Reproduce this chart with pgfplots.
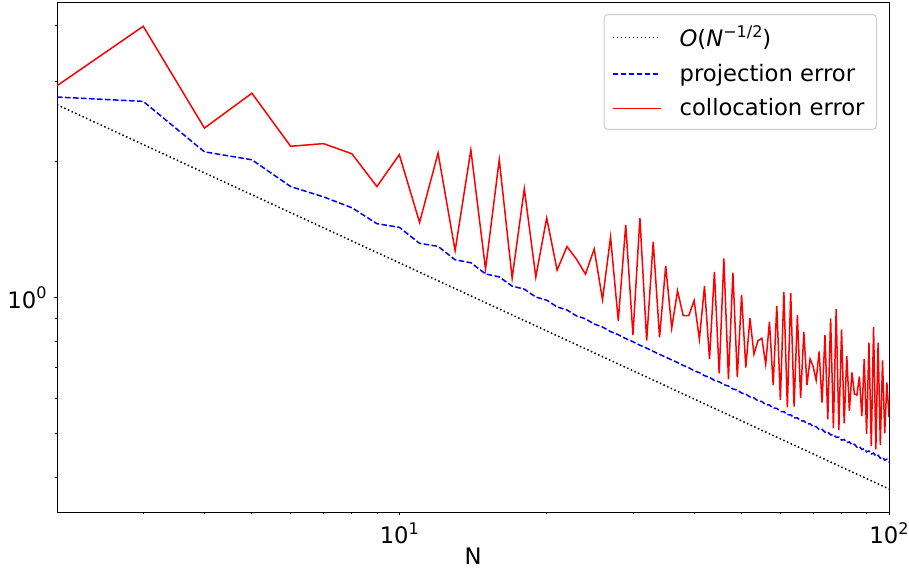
\documentclass[border=0pt]{standalone}
\usepackage{fontspec}
\setmainfont{DejaVu Sans}
\usepackage{pgfplots}
\pgfplotsset{compat=1.18}

% small raised exponent, as in 10^1
\newcommand{\expo}[1]{\raisebox{0.42em}{\fontsize{8}{9}\selectfont #1}}

\begin{document}
\begin{tikzpicture}[font=\fontsize{11.35}{13.6}\selectfont]
\useasboundingbox (-28.5pt,-28.5pt) rectangle (426pt,256pt);
\begin{axis}[
  width=416pt, height=254.5pt, scale only axis,
  xmode=log, ymode=log,
  xmin=2, xmax=100, ymin=0.3357, ymax=4.48,
  xtick={10,100}, xticklabels={10\expo{1},10\expo{2}},
  ytick={1}, yticklabels={10\expo{0}},
  minor xtick={3,4,5,6,7,8,9,20,30,40,50,60,70,80,90},
  minor ytick={0.4,0.5,0.6,0.7,0.8,0.9,2,3,4},
  tick align=outside, tick pos=left,
  major tick length=1.75pt, minor tick length=1pt,
  every tick/.style={black, line width=0.4pt},
  axis line style={line width=0.5pt},
  xlabel={N},
  xlabel style={yshift=5pt},
  legend cell align=left,
  legend style={at={(1,1)}, anchor=north east, xshift=-6pt, yshift=-5.5pt,
    draw=black!20, line width=0.5pt, rounded corners=2pt,
    fill=white, fill opacity=0.8, text opacity=1, draw opacity=1,
    inner xsep=4pt, inner ysep=3.5pt, row sep=3pt,
    font=\fontsize{11.35}{13.6}\selectfont},
  legend image code/.code={\draw[#1] (0pt,0pt) -- (24pt,0pt); \path (31pt,0pt);},
]
% reference rate
\addplot[black, line width=0.75pt, dash pattern=on 0.75pt off 1.25pt]
  coordinates {(2,2.669) (100,0.3775)};
\addlegendentry{\textit{O}(\textit{N}\expo{−1/2})}

% projection error
\addplot[blue, line width=0.75pt, dash pattern=on 2.8pt off 1.2pt] coordinates {
(2,2.776) (3,2.715) (4,2.10) (5,2.017) (6,1.76) (7,1.67) (8,1.58) (9,1.457) (10,1.43)
(11,1.318) (12,1.298) (13,1.212) (14,1.194) (15,1.128) (16,1.111) (17,1.060) (18,1.044)
(19,1.0025) (20,0.987) (21,0.9536) (22,0.939) (23,0.9112) (24,0.8975) (25,0.874) (26,0.861)
(27,0.841) (28,0.828) (29,0.8115) (30,0.799) (31,0.7849) (32,0.773) (33,0.7607) (34,0.749)
(35,0.7387) (36,0.728) (37,0.7184) (38,0.708) (39,0.6998) (40,0.689) (41,0.6825) (42,0.672)
(43,0.6664) (44,0.656) (45,0.6514) (46,0.642) (47,0.6374) (48,0.628) (49,0.6243) (50,0.615)
(51,0.6119) (52,0.603) (53,0.6003) (54,0.591) (55,0.5892) (56,0.580) (57,0.5788) (58,0.570)
(59,0.5689) (60,0.560) (61,0.5595) (62,0.551) (63,0.5506) (64,0.542) (65,0.542) (66,0.534)
(67,0.5339) (68,0.526) (69,0.5261) (70,0.518) (71,0.5186) (72,0.511) (73,0.5115) (74,0.504)
(75,0.5046) (76,0.497) (77,0.498) (78,0.491) (79,0.4917) (80,0.484) (81,0.4856) (82,0.478)
(83,0.4797) (84,0.4725) (85,0.474) (86,0.467) (87,0.4685) (88,0.4615) (89,0.4632) (90,0.456)
(91,0.4581) (92,0.451) (93,0.4531) (94,0.446) (95,0.4483) (96,0.4416) (97,0.4437) (98,0.437)
(99,0.4392) (100,0.4326)
};
\addlegendentry{projection error}

% collocation error
\addplot[red, line width=0.75pt] coordinates {
(2,2.94) (3,3.98) (4,2.37) (5,2.83) (6,2.16) (7,2.19) (8,2.08) (9,1.76) (10,2.07)
(11,1.466) (12,2.087) (13,1.27) (14,2.12) (15,1.156) (16,2.017) (17,1.104) (18,1.74)
(19,1.11) (20,1.50) (21,1.15) (22,1.297) (23,1.216) (24,1.127) (25,1.281) (26,0.989)
(27,1.36) (28,0.889) (29,1.448) (30,0.827) (31,1.50) (32,0.803) (33,1.33) (34,0.817)
(35,1.175) (36,0.856) (37,1.035) (38,0.912) (39,0.912) (40,0.985) (41,0.809) (42,1.06)
(43,0.731) (44,1.14) (45,0.68) (46,1.22) (47,0.66) (48,1.136) (49,0.667) (50,1.014)
(51,0.70) (52,0.90) (53,0.75) (54,0.803) (55,0.813) (56,0.712) (57,0.885) (58,0.641)
(59,0.958) (60,0.594) (61,1.03) (62,0.572) (63,1.023) (64,0.574) (65,0.916) (66,0.60)
(67,0.84) (68,0.641) (69,0.732) (70,0.704) (71,0.657) (72,0.76) (73,0.586) (74,0.827)
(75,0.538) (76,0.90) (77,0.514) (78,0.943) (79,0.51) (80,0.851) (81,0.527) (82,0.743)
(83,0.562) (84,0.683) (85,0.612) (86,0.609) (87,0.669) (88,0.547) (89,0.731) (90,0.4995)
(91,0.795) (92,0.47) (93,0.86) (94,0.462) (95,0.795) (96,0.472) (97,0.726) (98,0.501)
(99,0.649) (100,0.545)
};
\addlegendentry{collocation error}
\end{axis}
\end{tikzpicture}
\end{document}
